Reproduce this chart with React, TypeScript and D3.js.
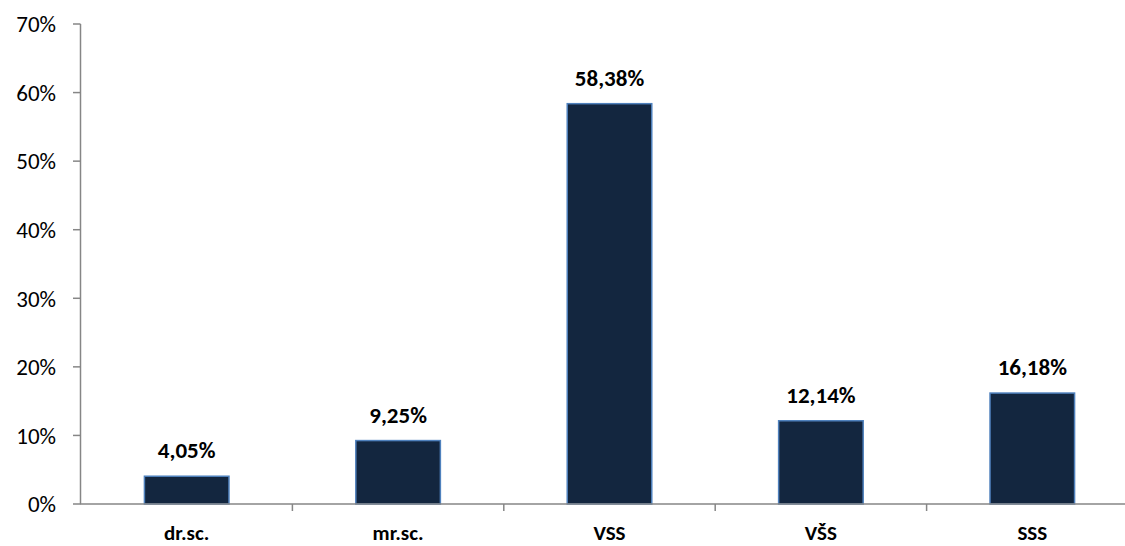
import React from "react";
import * as d3 from "d3";

const categories = ["dr.sc.", "mr.sc.", "VSS", "VŠS", "SSS"];
const values = [4.05, 9.25, 58.38, 12.14, 16.18];
const valueLabels = ["4,05%", "9,25%", "58,38%", "12,14%", "16,18%"];
const yTicks = [0, 10, 20, 30, 40, 50, 60, 70];

const W = 1125;
const H = 546;
const FONT = "Carlito, Calibri, Lato, 'Open Sans', sans-serif";

export default function App() {
  const x = d3.scaleBand<string>().domain(categories).range([81, 1138]).paddingInner(0.6).paddingOuter(0.3);
  const y = d3.scaleLinear().domain([0, 70]).range([504, 24]);
  const step = x.step();
  const axisColor = "#868686";
  const boundaries = categories.map((_, i) => 81 + step * i).slice(1);

  return (
    <svg width={W} height={H} style={{ position: "absolute", left: 0, top: 0 }}>
      <rect width={W} height={H} fill="#fff" />
      {/* y axis */}
      <line x1={80.5} x2={80.5} y1={y(70)} y2={y(0)} stroke={axisColor} strokeWidth={1.5} />
      {yTicks.map((t) => (
        <g key={t}>
          <line x1={73} x2={80.5} y1={y(t)} y2={y(t)} stroke={axisColor} strokeWidth={1.5} />
          <text x={56} y={y(t)} dy="0.36em" textAnchor="end" fontFamily={FONT} fontSize={23} fill="#000">
            {t}%
          </text>
        </g>
      ))}
      {/* bars */}
      {categories.map((c, i) => (
        <g key={c}>
          <rect
            x={x(c)!}
            y={y(values[i])}
            width={x.bandwidth()}
            height={y(0) - y(values[i])}
            fill="#13263F"
            stroke="#4F81BD"
            strokeWidth={1.5}
          />
          <text
            x={x(c)! + x.bandwidth() / 2}
            y={y(values[i]) - 18}
            textAnchor="middle"
            fontFamily={FONT}
            fontWeight="bold"
            fontSize={23}
            fill="#000"
          >
            {valueLabels[i]}
          </text>
          <text
            x={x(c)! + x.bandwidth() / 2}
            y={540}
            textAnchor="middle"
            fontFamily={FONT}
            fontWeight="bold"
            fontSize={21}
            fill="#000"
          >
            {c}
          </text>
        </g>
      ))}
      {/* x axis */}
      <line x1={80} x2={W} y1={504} y2={504} stroke={axisColor} strokeWidth={1.5} />
      {boundaries.map((b, i) => (
        <line key={i} x1={b} x2={b} y1={504} y2={511} stroke={axisColor} strokeWidth={1.5} />
      ))}
    </svg>
  );
}
